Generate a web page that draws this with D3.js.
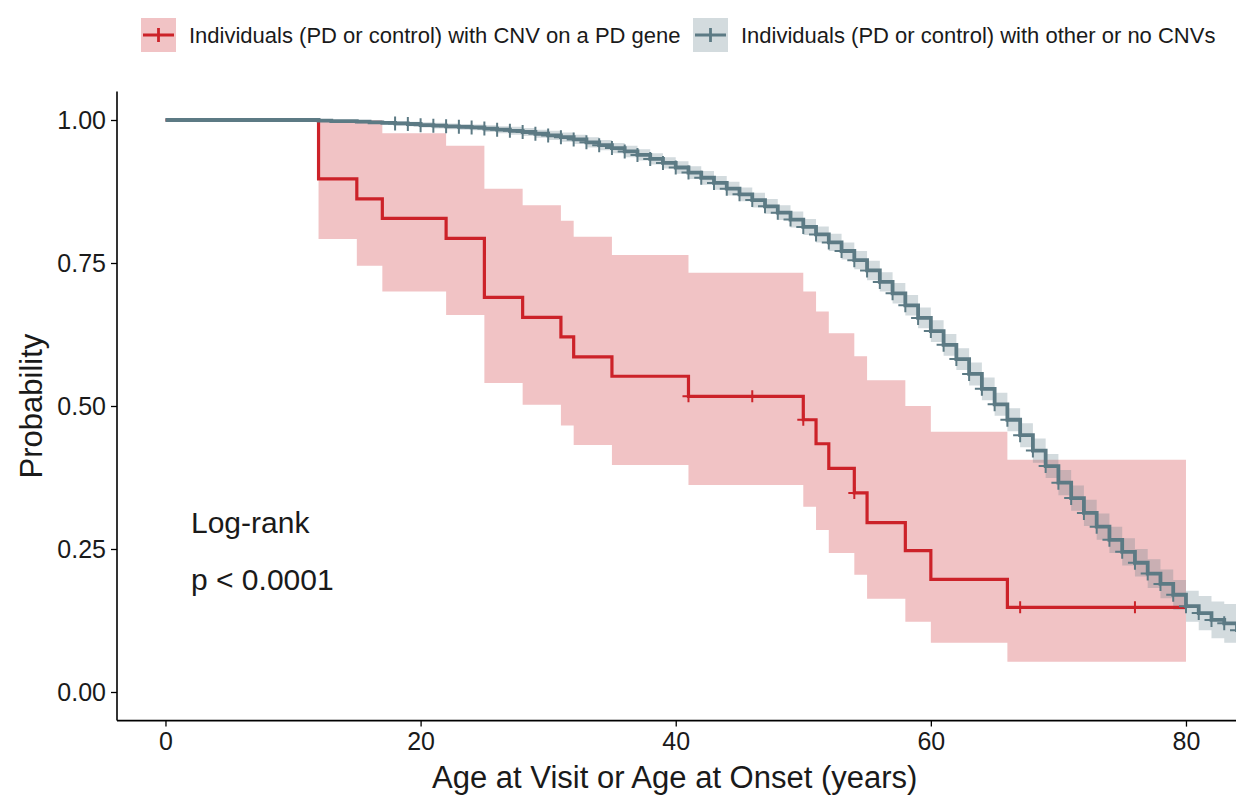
<!DOCTYPE html>
<html>
<head>
<meta charset="utf-8">
<script src="https://cdn.jsdelivr.net/npm/d3@7"></script>
<style>
  body { margin: 0; background: #fff; }
  svg { display: block; font-family: "Liberation Sans", Arial, sans-serif; }
</style>
</head>
<body>
<svg id="chart" width="1236" height="795"></svg>
<script>
// group labels
const groups = ['Individuals (PD or control) with CNV on a PD gene', 'Individuals (PD or control) with other or no CNVs']

// CNV on a PD gene: step times, survival, confidence band
const redTime = [0, 12, 15, 17, 22, 25, 28, 31, 32, 35, 41, 50, 51, 52, 54, 55, 58, 60, 66]
const redSurv = [1, 0.897, 0.862, 0.828, 0.793, 0.690, 0.655, 0.621, 0.586, 0.552, 0.517, 0.476, 0.434, 0.391, 0.348, 0.296, 0.247, 0.197, 0.148]
const redUpper = [1, 1, 1, 0.977, 0.955, 0.880, 0.851, 0.824, 0.796, 0.764, 0.733, 0.700, 0.665, 0.627, 0.587, 0.545, 0.500, 0.455, 0.406]
const redLower = [1, 0.792, 0.745, 0.700, 0.659, 0.540, 0.502, 0.466, 0.432, 0.397, 0.362, 0.324, 0.283, 0.243, 0.205, 0.163, 0.123, 0.086, 0.053]
const redEnd = 80
const redCensor = [41, 46, 50, 54, 67, 76]

// other or no CNVs
const greyTime = [0, 12, 13, 14, 15, 16, 17, 18, 19, 20, 21, 22, 23, 24, 25, 26, 27, 28, 29, 30, 31, 32, 33, 34, 35, 36, 37, 38, 39, 40,
  41, 42, 43, 44, 45, 46, 47, 48, 49, 50, 51, 52, 53, 54, 55, 56, 57, 58, 59, 60, 61, 62, 63, 64, 65, 66, 67, 68, 69, 70,
  71, 72, 73, 74, 75, 76, 77, 78, 79, 80, 81, 82, 83, 84]
const greySurv = [1, 0.999, 0.998, 0.998, 0.997, 0.996, 0.995, 0.994, 0.993, 0.991, 0.990, 0.989, 0.988, 0.987, 0.985, 0.983, 0.981, 0.979, 0.976, 0.973,
  0.970, 0.966, 0.961, 0.956, 0.951, 0.945, 0.939, 0.932, 0.925, 0.917, 0.908, 0.899, 0.890, 0.880, 0.870, 0.860, 0.849, 0.838, 0.826, 0.813,
  0.800, 0.786, 0.771, 0.755, 0.737, 0.717, 0.697, 0.676, 0.654, 0.631, 0.607, 0.582, 0.556, 0.530, 0.503, 0.476, 0.449, 0.422, 0.395, 0.366,
  0.339, 0.313, 0.289, 0.266, 0.245, 0.226, 0.207, 0.189, 0.170, 0.150, 0.138, 0.126, 0.120, 0.108]
const greyUpper = [1, 1, 1, 1, 0.999, 0.999, 0.998, 0.998, 0.997, 0.996, 0.995, 0.994, 0.993, 0.992, 0.991, 0.989, 0.988, 0.986, 0.983, 0.981,
  0.978, 0.974, 0.970, 0.965, 0.960, 0.955, 0.949, 0.942, 0.935, 0.928, 0.919, 0.911, 0.902, 0.892, 0.882, 0.873, 0.862, 0.851, 0.840, 0.827,
  0.814, 0.801, 0.786, 0.771, 0.754, 0.734, 0.715, 0.694, 0.672, 0.650, 0.626, 0.601, 0.576, 0.550, 0.523, 0.496, 0.470, 0.443, 0.416, 0.388,
  0.361, 0.336, 0.312, 0.289, 0.269, 0.250, 0.232, 0.214, 0.196, 0.177, 0.168, 0.158, 0.154, 0.146]
const greyLower = [1, 0.998, 0.996, 0.995, 0.994, 0.993, 0.992, 0.990, 0.989, 0.987, 0.985, 0.984, 0.983, 0.982, 0.979, 0.977, 0.974, 0.972, 0.969, 0.965,
  0.962, 0.958, 0.952, 0.947, 0.942, 0.935, 0.929, 0.922, 0.915, 0.906, 0.897, 0.887, 0.878, 0.868, 0.858, 0.847, 0.836, 0.825, 0.812, 0.799,
  0.786, 0.771, 0.756, 0.739, 0.720, 0.700, 0.679, 0.658, 0.636, 0.612, 0.588, 0.563, 0.536, 0.510, 0.483, 0.456, 0.428, 0.401, 0.374, 0.344,
  0.317, 0.290, 0.266, 0.243, 0.221, 0.202, 0.182, 0.164, 0.144, 0.123, 0.108, 0.094, 0.086, 0.070]
const greyEnd = 86
const greyCensor = [18, 19, 20, 21, 22, 23, 24, 25, 26, 27, 28, 29, 30, 31, 32, 33, 34, 35, 36, 37, 38, 39, 40, 41, 42, 43, 44, 45, 46, 47,
  48, 49, 50, 51, 52, 53, 54, 55, 56, 57, 58, 59, 60, 61, 62, 63, 64, 65, 66, 67, 68, 69, 70, 71, 72, 73, 74, 75, 76, 77, 78, 79, 80, 81, 82, 83, 84]

const xTicks = [0, 20, 40, 60, 80]
const yTicks = [0, 0.25, 0.5, 0.75, 1]
const yTickLabels = ['0.00', '0.25', '0.50', '0.75', '1.00']

const colors = { red: '#cc2229', grey: '#5c7a84' }
const bandOpacity = 0.27
const ink = '#1a1a1a'

const svg = d3.select('#chart')
const panel = { left: 117, right: 1237, top: 91.4, bottom: 720.6 }

const x = d3.scaleLinear().domain([-3.8, 84]).range([panel.left, panel.right])
const y = d3.scaleLinear().domain([-0.05, 1.05]).range([panel.bottom, panel.top])

const toRows = (time, surv, upper, lower, end) => {
  const rows = time.map((t, i) => ({ t, s: surv[i], u: upper[i], l: lower[i] }))
  const last = rows[rows.length - 1]
  rows.push({ t: end, s: last.s, u: last.u, l: last.l })
  return rows
}

const series = [
  { key: 'red', rows: toRows(redTime, redSurv, redUpper, redLower, redEnd), censor: redCensor, width: 3.2, cs: 6 },
  { key: 'grey', rows: toRows(greyTime, greySurv, greyUpper, greyLower, greyEnd), censor: greyCensor, width: 3.8, cs: 7 }
]

// value of the step function at time t
const survAt = (rows, t) => {
  let v = rows[0].s
  for (const r of rows) { if (r.t <= t) v = r.s }
  return v
}

svg.append('clipPath').attr('id', 'clip')
  .append('rect')
  .attr('x', panel.left).attr('y', panel.top)
  .attr('width', panel.right - panel.left).attr('height', panel.bottom - panel.top)

const plot = svg.append('g').attr('clip-path', 'url(#clip)')

const area = d3.area().curve(d3.curveStepAfter)
  .x(d => x(d.t)).y0(d => y(d.l)).y1(d => y(d.u))
const line = d3.line().curve(d3.curveStepAfter)
  .x(d => x(d.t)).y(d => y(d.s))

series.forEach(sr => {
  plot.append('path').datum(sr.rows)
    .attr('d', area)
    .attr('fill', colors[sr.key])
    .attr('fill-opacity', bandOpacity)
})

series.forEach(sr => {
  plot.append('path').datum(sr.rows)
    .attr('d', line)
    .attr('fill', 'none')
    .attr('stroke', colors[sr.key])
    .attr('stroke-width', sr.width)
  plot.append('g').selectAll('path')
    .data(sr.censor)
    .join('path')
    .attr('d', t => {
      const cx = x(t); const cy = y(survAt(sr.rows, t))
      return `M${cx - sr.cs},${cy}H${cx + sr.cs}M${cx},${cy - sr.cs}V${cy + sr.cs}`
    })
    .attr('stroke', colors[sr.key])
    .attr('stroke-width', 2)
})

// axes
const xAxis = svg.append('g')
  .attr('transform', `translate(0,${panel.bottom})`)
  .call(d3.axisBottom(x).tickValues(xTicks).tickSize(6).tickPadding(6))
const yAxis = svg.append('g')
  .attr('transform', `translate(${panel.left},0)`)
  .call(d3.axisLeft(y).tickValues(yTicks).tickFormat((d, i) => yTickLabels[i]).tickSize(6).tickPadding(5))

;[xAxis, yAxis].forEach(ax => {
  ax.select('.domain').attr('d', null)
  ax.selectAll('line').attr('stroke', '#000').attr('stroke-width', 1.3)
  ax.selectAll('text').attr('fill', ink).attr('font-size', 25).attr('font-family', '"Liberation Sans", Arial, sans-serif')
})
svg.append('line')
  .attr('x1', panel.left).attr('x2', panel.left)
  .attr('y1', panel.top).attr('y2', panel.bottom)
  .attr('stroke', '#000').attr('stroke-width', 1.6)
svg.append('line')
  .attr('x1', panel.left).attr('x2', panel.right)
  .attr('y1', panel.bottom).attr('y2', panel.bottom)
  .attr('stroke', '#000').attr('stroke-width', 1.6)

svg.append('text')
  .attr('x', (x(0) + x(80)) / 2 - 1).attr('y', 788)
  .attr('text-anchor', 'middle').attr('font-size', 31).attr('fill', ink)
  .text('Age at Visit or Age at Onset (years)')
svg.append('text')
  .attr('transform', `translate(42,${y(0.5)}) rotate(-90)`)
  .attr('text-anchor', 'middle').attr('font-size', 31).attr('fill', ink)
  .text('Probability')

// log-rank annotation
svg.append('text').attr('x', x(2)).attr('y', y(0.25) - 16)
  .attr('font-size', 30).attr('fill', ink).text('Log-rank')
svg.append('text').attr('x', x(2)).attr('y', y(0.25) + 41)
  .attr('font-size', 30).attr('fill', ink).text('p < 0.0001')

// legend
const legend = svg.append('g')
const keyX = [141, 693]
groups.forEach((g, i) => {
  const key = ['red', 'grey'][i]
  const k = legend.append('g').attr('transform', `translate(${keyX[i]},18)`)
  k.append('rect').attr('width', 35).attr('height', 34)
    .attr('fill', colors[key]).attr('fill-opacity', bandOpacity)
  k.append('path').attr('d', 'M2,17H33M17.5,10V24')
    .attr('stroke', colors[key]).attr('stroke-width', 2.8)
  legend.append('text')
    .attr('x', keyX[i] + 48).attr('y', 43)
    .attr('font-size', 22).attr('fill', ink)
    .text(g)
})
</script>
</body>
</html>
